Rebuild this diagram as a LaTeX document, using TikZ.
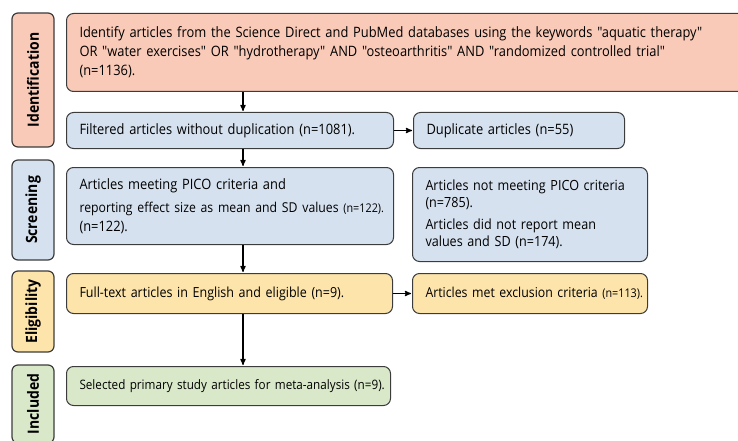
\documentclass[tikz,border=0pt]{standalone}
\usepackage{fontspec}
\setmainfont{Open Sans}[FakeStretch=0.9, Ligatures=TeXOff]
\usetikzlibrary{arrows}

\definecolor{idfill}{RGB}{249,202,184}
\definecolor{scfill}{RGB}{214,225,239}
\definecolor{elfill}{RGB}{253,228,170}
\definecolor{infill}{RGB}{217,232,201}
\definecolor{edgegray}{RGB}{60,60,60}

\tikzset{
  stage/.style={draw=edgegray, line width=1.2pt, rounded corners=6pt, rotate=90,
    minimum height=42pt, inner sep=0pt, font=\fontsize{15.5}{17}\selectfont\bfseries},
  box/.style={draw=edgegray, line width=1pt, rounded corners=7pt, anchor=north west,
    align=left, inner xsep=13pt, inner ysep=0pt, font=\fontsize{14.3}{19}\selectfont}
}
\newcommand{\nsmall}[1]{{\fontsize{12}{19}\selectfont #1}}

\begin{document}
\begin{tikzpicture}[x=1pt,y=-1pt,>=stealth',shorten >=1pt,line width=1.2pt]
  \clip (0,0) rectangle (738,441);

  % stage labels on the left
  \node[stage, fill=idfill, minimum width=134pt] (idlab)  at (33,80)  {Identification};
  \node[stage, fill=scfill, minimum width=100pt] (scrlab) at (33,210) {Screening};
  \node[stage, fill=elfill, minimum width=81pt]  (elilab) at (33,311.5) {Eligibility};
  \node[stage, fill=infill, minimum width=78pt]  (inclab) at (33,404) {Included};

  % identification
  \node[box, fill=idfill, text width=653pt, minimum height=78pt] (ident) at (66,13)
    {Identify articles from the Science Direct and PubMed databases using the keywords "aquatic therapy"\\
     OR "water exercises" OR "hydrotherapy" AND "osteoarthritis" AND "randomized controlled trial"\\
     (n=1136).};
  \node[box, fill=scfill, text width=301pt, minimum height=36pt] (filt) at (66,112)
    {Filtered articles without duplication (n=1081).};
  \node[box, fill=scfill, text width=185pt, minimum height=36pt] (dup) at (413,112)
    {Duplicate articles (n=55)};

  % screening
  \node[box, fill=scfill, text width=301pt, minimum height=77pt] (scr) at (66,167)
    {Articles meeting PICO criteria and\\[4pt]
     \mbox{\fontsize{13.6}{19}\selectfont reporting effect size as mean and SD values \nsmall{(n=122).}}\\
     (n=122).};
  \node[box, fill=scfill, text width=209pt, minimum height=94pt,
    font=\fontsize{14}{17}\selectfont] (notm) at (412,167)
    {Articles not meeting PICO criteria\\
     (n=785).\\[5pt]
     Articles did not report mean\\
     values and SD (n=174).};

  % eligibility
  \node[box, fill=elfill, text width=300pt, minimum height=40pt,
    font=\fontsize{13.9}{19}\selectfont] (eli) at (66,273)
    {Full-text articles in English and eligible (n=9).};
  \node[box, fill=elfill, text width=209pt, minimum height=40pt,
    font=\fontsize{13.7}{19}\selectfont] (excl) at (412,273)
    {\mbox{Articles met exclusion criteria \nsmall{(n=113).}}};

  % included
  \node[box, fill=infill, text width=298pt, minimum height=39pt,
    font=\fontsize{13}{19}\selectfont] (sel) at (66,366)
    {\mbox{Selected primary study articles for meta-analysis (n=9).}};

  \coordinate (spine) at (243,0);
  \draw[->] (ident.south -| spine) -- (filt.north -| spine);
  \draw[->] (filt.east) -- (dup.west);
  \draw[->] (filt.south -| spine) -- (scr.north -| spine);
  \draw[->] (scr.south -| spine) -- (eli.north -| spine);
  \draw[->] (eli.east) -- (excl.west);
  \draw[->] (eli.south -| spine) -- (sel.north -| spine);
\end{tikzpicture}
\end{document}
